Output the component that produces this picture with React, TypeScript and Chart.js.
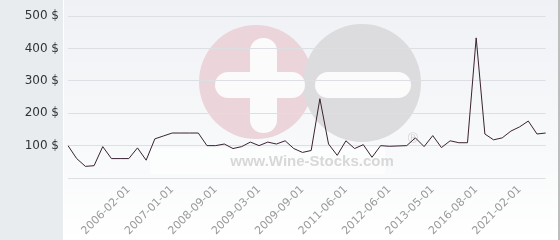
import React, { useEffect, useRef } from 'react';
import { Chart, registerables } from 'chart.js';

Chart.register(...registerables);

const categories: string[] = [
  '', '', '', '', '', '', '', '2006-02-01', '', '',
  '', '', '2007-01-01', '', '', '', '', '2008-09-01', '', '',
  '', '', '2009-03-01', '', '', '', '', '2009-09-01', '', '',
  '', '', '2011-06-01', '', '', '', '', '2012-06-01', '', '',
  '', '', '2013-05-01', '', '', '', '', '2016-08-01', '', '',
  '', '', '2021-02-01', '', '', '',
];

const prices: number[] = [
  100, 60, 36, 38, 97, 60, 60, 60, 93, 55,
  121, 130, 139, 139, 139, 139, 100, 100, 105, 91,
  97, 111, 100, 111, 105, 115, 91, 79, 85, 245,
  105, 70, 115, 91, 103, 64, 100, 98, 99, 100,
  124, 97, 131, 94, 115, 109, 109, 433, 136, 118,
  124, 145, 158, 176, 136, 139,
];

const yMin = 0;
const yMax = 500;
const yStep = 100;
const currency = '$';

function roundRect(ctx: CanvasRenderingContext2D, x: number, y: number, w: number, h: number, r: number) {
  ctx.beginPath();
  ctx.moveTo(x + r, y);
  ctx.lineTo(x + w - r, y);
  ctx.arc(x + w - r, y + r, r, -Math.PI / 2, 0);
  ctx.lineTo(x + w, y + h - r);
  ctx.arc(x + w - r, y + h - r, r, 0, Math.PI / 2);
  ctx.lineTo(x + r, y + h);
  ctx.arc(x + r, y + h - r, r, Math.PI / 2, Math.PI);
  ctx.lineTo(x, y + r);
  ctx.arc(x + r, y + r, r, Math.PI, Math.PI * 1.5);
  ctx.closePath();
}

const backgroundPlugin = {
  id: 'wsBackground',
  beforeDraw(chart: any) {
    const { ctx, width, height } = chart;
    ctx.save();
    const g = ctx.createLinearGradient(0, 0, 0, height);
    g.addColorStop(0, '#eff1f5');
    g.addColorStop(0.7, '#f9fafb');
    g.addColorStop(1, '#ffffff');
    ctx.fillStyle = g;
    ctx.fillRect(0, 0, width, height);
    ctx.fillStyle = '#e8ecef';
    ctx.fillRect(0, 0, 63, height);
    ctx.fillStyle = '#ffffff';
    ctx.fillRect(63, 0, 1, height);
    ctx.fillStyle = '#bdbdbd';
    ctx.fillRect(558, 0, 2, height);

    // watermark
    ctx.fillStyle = '#ebd4da';
    ctx.beginPath();
    ctx.arc(256, 82, 57, 0, Math.PI * 2);
    ctx.fill();
    ctx.fillStyle = '#dcdcde';
    ctx.beginPath();
    ctx.arc(362, 83, 59, 0, Math.PI * 2);
    ctx.fill();
    ctx.fillStyle = '#fbfbfc';
    roundRect(ctx, 250, 38, 27, 95, 13);
    ctx.fill();
    roundRect(ctx, 215, 72, 90, 26, 13);
    ctx.fill();
    roundRect(ctx, 315, 72, 96, 26, 13);
    ctx.fill();

    ctx.fillStyle = 'rgba(255,255,255,0.6)';
    ctx.fillRect(150, 148, 235, 26);
    ctx.fillStyle = '#d8d8d8';
    ctx.font = 'bold 15px "Liberation Sans", Arial, sans-serif';
    const w = ctx.measureText('www.Wine-Stocks.com').width;
    const size = Math.max(10, Math.min(18, (15 * 164) / w));
    ctx.font = `bold ${size.toFixed(1)}px "Liberation Sans", Arial, sans-serif`;
    ctx.textAlign = 'center';
    ctx.textBaseline = 'alphabetic';
    ctx.fillText('www.Wine-Stocks.com', 312, 166);
    ctx.font = '14px "Liberation Sans", Arial, sans-serif';
    ctx.fillStyle = '#d2d2d2';
    ctx.fillText('®', 413, 143);
    ctx.restore();
  },
};

export default function App() {
  const canvasRef = useRef<HTMLCanvasElement | null>(null);

  useEffect(() => {
    if (!canvasRef.current) return;
    const chart = new Chart(canvasRef.current, {
      type: 'line',
      data: {
        labels: categories,
        datasets: [
          {
            data: prices,
            borderColor: '#3b2230',
            borderWidth: 1,
            pointRadius: 0,
            tension: 0,
            fill: false,
          },
        ],
      },
      options: {
        animation: false,
        responsive: false,
        maintainAspectRatio: false,
        layout: { padding: { top: 13, right: 5, left: 0, bottom: 0 } },
        plugins: { legend: { display: false }, tooltip: { enabled: false } },
        scales: {
          x: {
            offset: false,
            grid: { display: false, drawTicks: false },
            border: { display: false },
            afterFit: (scale: any) => {
              scale.height = 62;
            },
            ticks: {
              autoSkip: false,
              maxRotation: 45,
              minRotation: 45,
              padding: 5,
              color: '#9a9a9a',
              font: { family: '"DejaVu Sans", sans-serif', size: 11 },
            },
          },
          y: {
            min: yMin,
            max: yMax,
            grid: { color: '#dedfe3', lineWidth: 1, drawTicks: false },
            border: { display: false },
            afterFit: (scale: any) => {
              scale.width = 68;
            },
            ticks: {
              stepSize: yStep,
              padding: 9,
              color: '#333333',
              font: { family: '"DejaVu Sans", sans-serif', size: 12 },
              callback: (v: any) => (Number(v) === 0 ? '' : `${v} ${currency}`),
            },
          },
        },
      },
      plugins: [backgroundPlugin],
    });
    return () => chart.destroy();
  }, []);

  return (
    <div style={{ position: 'fixed', left: 0, top: 0, width: 560, height: 240 }}>
      <canvas ref={canvasRef} width={560} height={240} style={{ width: 560, height: 240, display: 'block' }} />
    </div>
  );
}
